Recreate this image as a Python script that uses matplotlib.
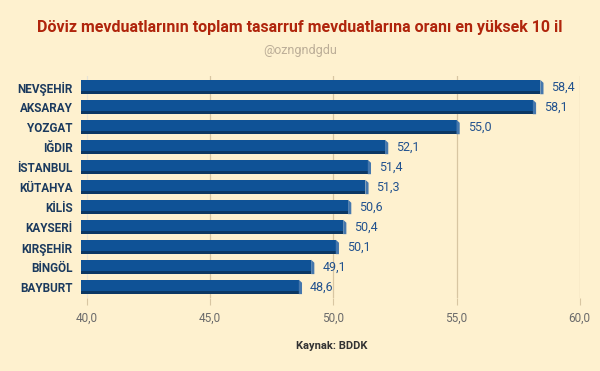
import matplotlib.pyplot as plt
from matplotlib.patches import Polygon

plt.rcParams['font.family'] = ['Roboto', 'DejaVu Sans']

iller = ['NEVŞEHİR', 'AKSARAY', 'YOZGAT', 'IĞDIR', 'İSTANBUL', 'KÜTAHYA',
         'KİLİS', 'KAYSERİ', 'KIRŞEHİR', 'BİNGÖL', 'BAYBURT']
oran = [58.4, 58.1, 55.0, 52.1, 51.4, 51.3, 50.6, 50.4, 50.1, 49.1, 48.6]
ticks = [40, 45, 50, 55, 60]
tick_labels = ['40,0', '45,0', '50,0', '55,0', '60,0']

bg = '#fef1cf'
main_c = '#0f5296'
dark_c = '#0b3763'
side_c = '#4577ad'
grid_c = '#d8c6a2'

fig = plt.figure(figsize=(6, 3.71), dpi=100, facecolor=bg)
ax = fig.add_axes([0.135, 0.197, 0.832, 0.598])
ax.set_facecolor(bg)

x0 = 39.76
h = 0.72
sh = 0.17
ys = list(range(len(iller)))

ax.barh(ys, [v - x0 for v in oran], left=x0, height=h, color=main_c, zorder=3)
ax.barh([y + h / 2 - sh / 2 for y in ys], [v - x0 for v in oran], left=x0,
        height=sh, color=dark_c, zorder=4)
dx = 0.13
for y, v in zip(ys, oran):
    top = y - h / 2
    bot = y + h / 2
    ax.add_patch(Polygon([(v, top), (v + dx, top + 0.15), (v + dx, bot), (v, bot)],
                         closed=True, color=side_c, zorder=4, lw=0))
    ax.text(v + 0.45, y, f'{v:.1f}'.replace('.', ','), va='center', ha='left',
            fontsize=9, color='#22528e', zorder=5)

ax.set_xlim(39.76, 60.02)
ax.set_ylim(len(iller) - 0.45, -0.55)
ax.set_xticks(ticks)
ax.set_xticklabels(tick_labels, fontsize=8.5, color='#6b6b6b')
ax.set_yticks(ys)
ax.set_yticklabels(iller, fontsize=8.5, fontweight='bold', color='#1b3a5e')
ax.tick_params(axis='y', length=0, pad=6)
ax.tick_params(axis='x', length=5, color=grid_c, pad=5)
ax.grid(axis='x', color=grid_c, lw=0.9, zorder=0)
ax.get_xgridlines()[0].set_color('#e8e4d6')
for s in ax.spines.values():
    s.set_visible(False)

fig.text(0.5, 0.925, 'Döviz mevduatlarının toplam tasarruf mevduatlarına oranı en yüksek 10 il',
         ha='center', va='center', fontsize=11.5, fontweight='bold', color='#b0250c')
fig.text(0.5, 0.865, '@ozngndgdu', ha='center', va='center', fontsize=9, color='#bcae98')
fig.text(0.553, 0.067, 'Kaynak: BDDK', ha='center', va='center', fontsize=8,
         fontweight='bold', color='#333333')

fig.savefig('out.png', dpi=100, facecolor=bg)
